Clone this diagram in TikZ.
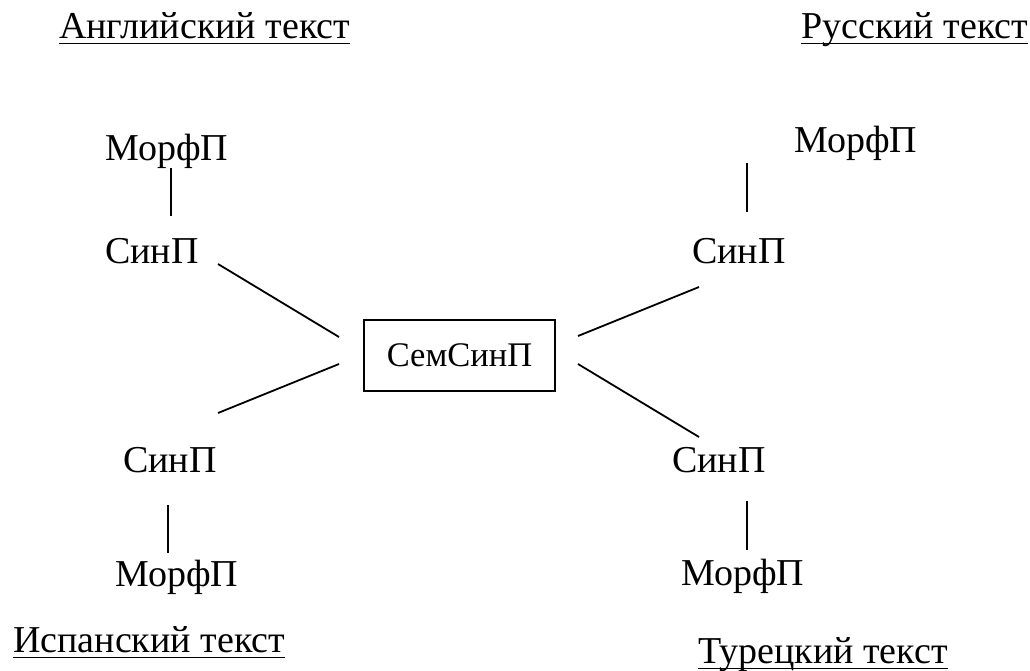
\documentclass[tikz,border=0pt]{standalone}
\usepackage{fontspec}
\setmainfont{Liberation Serif}
\begin{document}
\begin{tikzpicture}[x=1pt,y=-1pt,
  lbl/.style={inner sep=0pt,anchor=base west,font=\fontsize{38}{40}\selectfont},
  ttl/.style={lbl},
  conn/.style={line width=1.8pt},
  ul/.style={line width=1.8pt},
  semsin/.style={draw,line width=1.8pt,minimum width=191pt,minimum height=71pt,inner sep=0pt,font=\fontsize{34.5}{36}\selectfont}]
\useasboundingbox (0,0) rectangle (1030,670);
% titles
\node[ttl] (en) at (59,38) {Английский текст};
\node[ttl] (ru) at (801,38) {Русский текст};
\node[ttl] (es) at (13,652) {Испанский текст};
\node[ttl] (tr) at (698,663) {Турецкий текст};
\foreach \t in {en,ru,es,tr}
  \draw[ul] ([yshift=-5.5pt]\t.base west) -- ([yshift=-5.5pt]\t.base east);
% left top
\node[lbl] (m1) at (105,160) {МорфП};
\node[lbl] (s1) at (105,263) {СинП};
% right top
\node[lbl] (m2) at (794,152) {МорфП};
\node[lbl] (s2) at (692,263) {СинП};
% left bottom
\node[lbl] (s3) at (123,472) {СинП};
\node[lbl] (m3) at (115,586) {МорфП};
% right bottom
\node[lbl] (s4) at (672,472) {СинП};
\node[lbl] (m4) at (681,585) {МорфП};
% center
\node[semsin] (c) at (459.5,355.5) {СемСинП};
% connector ends
\coordinate (a1) at (171,168); \coordinate (b1) at (171,216);
\coordinate (a2) at (747,163); \coordinate (b2) at (747,212);
\coordinate (a3) at (168,505); \coordinate (b3) at (168,553);
\coordinate (a4) at (747,501); \coordinate (b4) at (747,550);
\coordinate (p1) at (218,264); \coordinate (q1) at (339,337);
\coordinate (p3) at (218,413); \coordinate (q3) at (339,364);
\coordinate (p2) at (699,287); \coordinate (q2) at (578,336);
\coordinate (p4) at (699,437); \coordinate (q4) at (578,364);
\draw[conn] (a1) -- (b1);
\draw[conn] (a2) -- (b2);
\draw[conn] (a3) -- (b3);
\draw[conn] (a4) -- (b4);
\draw[conn] (p1) -- (q1);
\draw[conn] (p3) -- (q3);
\draw[conn] (q2) -- (p2);
\draw[conn] (q4) -- (p4);
\end{tikzpicture}
\end{document}
